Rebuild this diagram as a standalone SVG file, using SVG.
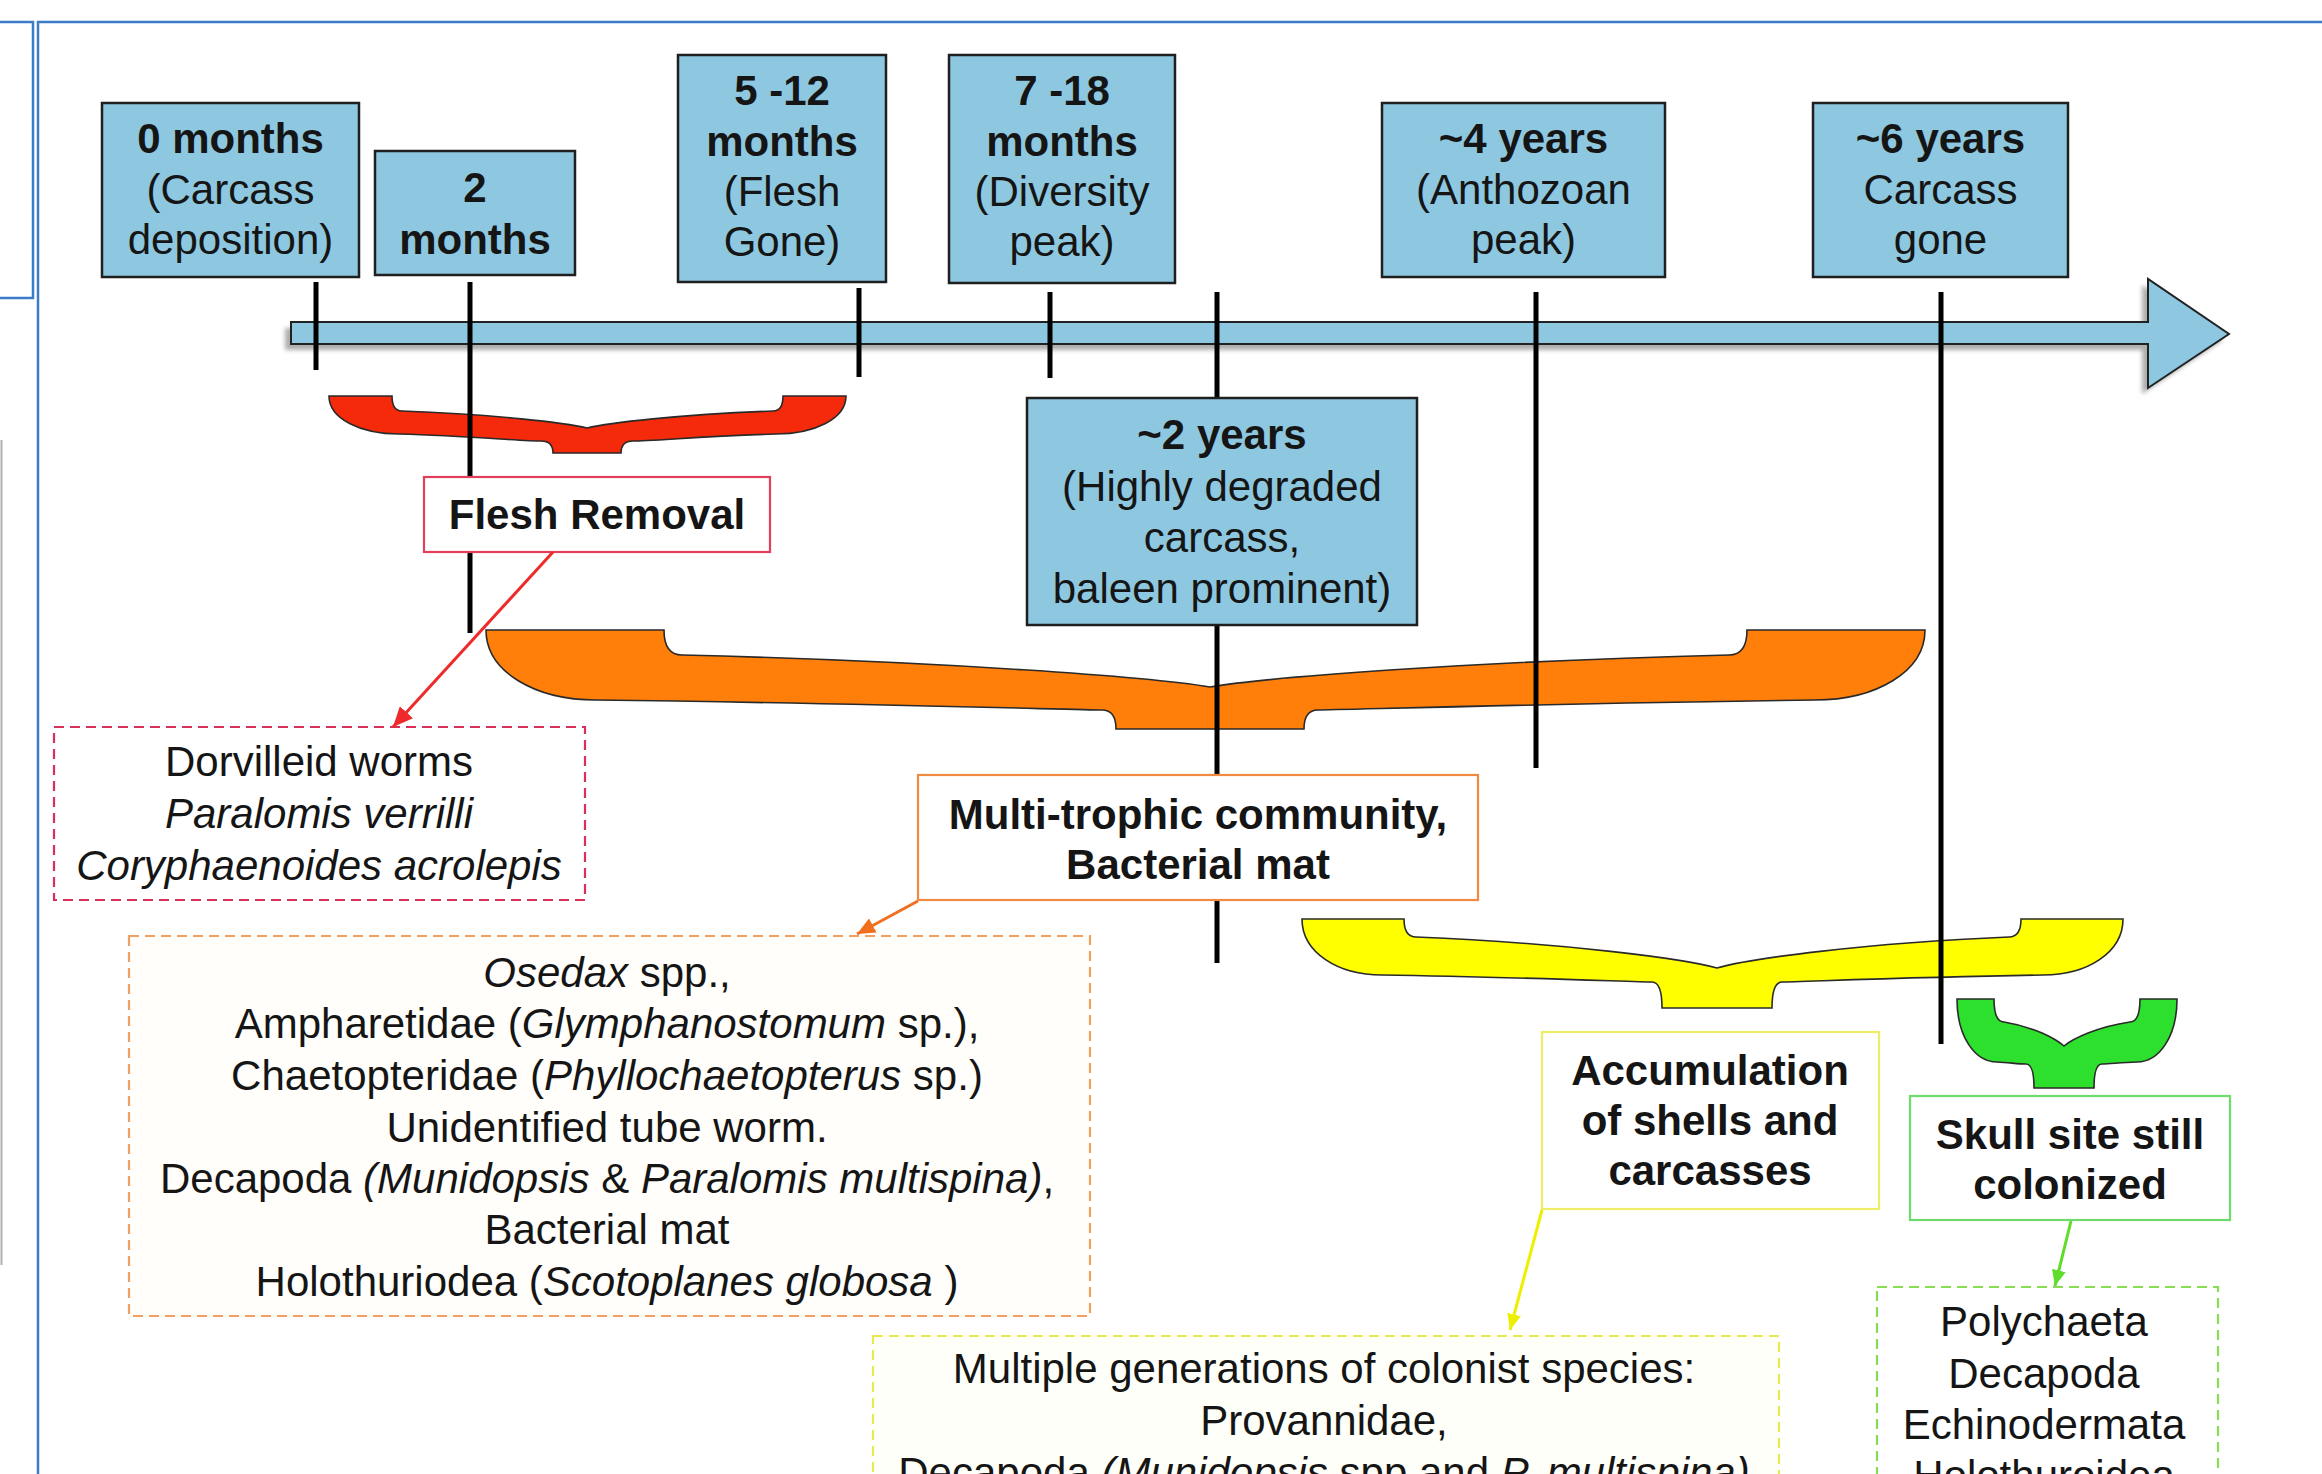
<svg xmlns="http://www.w3.org/2000/svg" width="2322" height="1474" viewBox="0 0 2322 1474">
<defs>
<style>
.t{font-family:"Liberation Sans",Arial,Helvetica,sans-serif;font-size:42px;text-anchor:middle;fill:#151515}
.b{font-weight:bold}
.i{font-style:italic}
.tb{fill:#8DC8E0;stroke:#1f1f1f;stroke-width:2.5}
.tick{stroke:#000;stroke-width:5;fill:none}
.brace{stroke:#2a2a2a;stroke-width:1.6}
.panel{fill:none;stroke:#3B7CC9;stroke-width:2.5}
.lbl{fill:#fff;stroke-width:2.2}
.sp{stroke-width:2.2;stroke-dasharray:10 6}
.conn{fill:none;stroke-width:3}
</style>
<filter id="sh" x="-5%" y="-50%" width="110%" height="200%"><feGaussianBlur stdDeviation="2"/></filter>
<marker id="mr" markerUnits="userSpaceOnUse" markerWidth="22" markerHeight="18" refX="20" refY="9" orient="auto"><path d="M0,0 L20,9 L0,18 z" fill="#EE2A2A"/></marker>
<marker id="mo" markerUnits="userSpaceOnUse" markerWidth="20" markerHeight="16" refX="18" refY="8" orient="auto"><path d="M0,0 L18,8 L0,16 z" fill="#F07020"/></marker>
<marker id="my" markerUnits="userSpaceOnUse" markerWidth="18" markerHeight="14" refX="16" refY="7" orient="auto"><path d="M0,0 L16,7 L0,14 z" fill="#EEEE00"/></marker>
<marker id="mg" markerUnits="userSpaceOnUse" markerWidth="18" markerHeight="14" refX="16" refY="7" orient="auto"><path d="M0,0 L16,7 L0,14 z" fill="#5EDD2A"/></marker>
</defs>
<rect width="2322" height="1474" fill="#fff"/>
<g id="frame">
<path class="panel" d="M0,22 H33 V298 H0"/>
<path class="panel" d="M38,1474 V22 H2322"/>
<line x1="1.5" y1="440" x2="1.5" y2="1265" stroke="#b0b0b0" stroke-width="2"/>
</g>
<g id="timeline">
<path d="M291,322 H2148 V279 L2229,334 L2148,388 V344 H291 Z" transform="translate(-6,6)" fill="#8a8a8a" opacity="0.7" filter="url(#sh)"/>
<path d="M291,322 H2148 V279 L2229,334 L2148,388 V344 H291 Z" fill="#8DC8E0" stroke="#222" stroke-width="2"/>
</g>
<g id="braces">
<path id="brace-red" class="brace" fill="#F52A0A" d="M329,396 H392 Q392,411 402,411 C494.5,414.4 566.4,422.9 587,428 C607.7,422.9 680,414.4 773,411 Q783,411 783,396 H846 C846,418.8 814.5,434 776,434 C704.5,436.1 653,441 633,441 Q621,441 621,453 H553 Q553,441 541,441 C521,441 470,436.1 399,434 C360.5,434 329,418.8 329,396 Z"/>
<path id="brace-orange" class="brace" fill="#FF7F0A" d="M486,630 H664 Q664,655 682,655 C946,661.4 1152.1,677.4 1210,687 C1267.2,677.4 1469.5,661.4 1729,655 Q1747,655 1747,630 H1925 C1925,672 1875.5,700 1815,700 C1566.5,703 1338,710 1318,710 Q1304,710 1304,729 H1116 Q1116,710 1102,710 C1082,710 849,703 596,700 C535.5,700 486,672 486,630 Z"/>
<path id="brace-yellow" class="brace" fill="#FFFF00" d="M1302,919 H1404 Q1404,937 1416,937 C1566.5,943.2 1683.8,958.7 1717,968 C1749.5,958.7 1863,943.2 2009,937 Q2021,937 2021,919 H2123 C2123,952.6 2087,975 2043,975 C1912.5,977 1797,982 1782,982 Q1772,982 1772,1008 H1662 Q1662,982 1652,982 C1637,982 1517,977 1382,975 C1338,975 1302,952.6 1302,919 Z"/>
<path id="brace-green" class="brace" fill="#2EE02E" d="M1957,999 H1994 Q1994,1022 2004,1022 C2034,1026.8 2055.4,1038.8 2064,1046 C2073,1038.8 2097,1026.8 2130,1022 Q2140,1022 2140,999 H2177 C2177,1036.8 2159,1062 2137,1062 C2119.5,1062.6 2110,1064 2102,1064 Q2094,1064 2094,1088 H2034 Q2034,1064 2026,1064 C2018,1064 2009.5,1062.6 1997,1062 C1975,1062 1957,1036.8 1957,999 Z"/>
</g>
<g id="ticks">
<line class="tick" x1="316" y1="282" x2="316" y2="370"/>
<line class="tick" x1="470" y1="282" x2="470" y2="633"/>
<line class="tick" x1="859" y1="288" x2="859" y2="377"/>
<line class="tick" x1="1050" y1="292" x2="1050" y2="378"/>
<line class="tick" x1="1217" y1="292" x2="1217" y2="963"/>
<line class="tick" x1="1536" y1="292" x2="1536" y2="768"/>
<line class="tick" x1="1941" y1="292" x2="1941" y2="1044"/>
</g>
<g id="t0m"><rect class="tb" x="102" y="103" width="257" height="174"/>
<text class="t" x="230.5"><tspan class="b" x="230.5" y="153">0 months</tspan><tspan x="230.5" y="204">(Carcass</tspan><tspan x="230.5" y="254">deposition)</tspan></text></g>
<g id="t2m"><rect class="tb" x="375" y="151" width="200" height="124"/>
<text class="t b" x="475"><tspan x="475" y="202">2</tspan><tspan x="475" y="254">months</tspan></text></g>
<g id="t5m"><rect class="tb" x="678" y="55" width="208" height="227"/>
<text class="t" x="782"><tspan class="b" x="782" y="105">5 -12</tspan><tspan class="b" x="782" y="156">months</tspan><tspan x="782" y="206">(Flesh</tspan><tspan x="782" y="256">Gone)</tspan></text></g>
<g id="t7m"><rect class="tb" x="949" y="55" width="226" height="228"/>
<text class="t" x="1062"><tspan class="b" x="1062" y="105">7 -18</tspan><tspan class="b" x="1062" y="156">months</tspan><tspan x="1062" y="206">(Diversity</tspan><tspan x="1062" y="256">peak)</tspan></text></g>
<g id="t4y"><rect class="tb" x="1382" y="103" width="283" height="174"/>
<text class="t" x="1523.5"><tspan class="b" x="1523.5" y="153">~4 years</tspan><tspan x="1523.5" y="204">(Anthozoan</tspan><tspan x="1523.5" y="254">peak)</tspan></text></g>
<g id="t6y"><rect class="tb" x="1813" y="103" width="255" height="174"/>
<text class="t" x="1940.5"><tspan class="b" x="1940.5" y="153">~6 years</tspan><tspan x="1940.5" y="204">Carcass</tspan><tspan x="1940.5" y="254">gone</tspan></text></g>
<g id="t2y"><rect class="tb" x="1027" y="398" width="390" height="227"/>
<text class="t" x="1222"><tspan class="b" x="1222" y="449">~2 years</tspan><tspan x="1222" y="501">(Highly degraded</tspan><tspan x="1222" y="552">carcass,</tspan><tspan x="1222" y="603">baleen prominent)</tspan></text></g>
<g id="flesh"><rect class="lbl" x="424" y="477" width="346" height="75" stroke="#E0405A"/>
<text class="t b" x="597" y="529">Flesh Removal</text></g>
<g id="multi"><rect class="lbl" x="918" y="775" width="560" height="125" stroke="#F08A40"/>
<text class="t b" x="1198"><tspan x="1198" y="829">Multi-trophic community,</tspan><tspan x="1198" y="879">Bacterial mat</tspan></text></g>
<g id="accum"><rect class="lbl" x="1542" y="1032" width="337" height="177" stroke="#EEEE66" stroke-width="3"/>
<text class="t b" x="1710"><tspan x="1710" y="1085">Accumulation</tspan><tspan x="1710" y="1135">of shells and</tspan><tspan x="1710" y="1185">carcasses</tspan></text></g>
<g id="skull"><rect class="lbl" x="1910" y="1096" width="320" height="124" stroke="#6FDB6F" stroke-width="2.5"/>
<text class="t b" x="2070"><tspan x="2070" y="1149">Skull site still</tspan><tspan x="2070" y="1199">colonized</tspan></text></g>
<g id="dorv"><rect class="sp" x="54" y="727" width="531" height="173" fill="#fff" stroke="#D8305A"/>
<text class="t" x="319"><tspan x="319" y="776">Dorvilleid worms</tspan><tspan class="i" x="319" y="828">Paralomis verrilli</tspan><tspan class="i" x="319" y="880">Coryphaenoides acrolepis</tspan></text></g>
<g id="osedax"><rect class="sp" x="129" y="936" width="961" height="380" fill="#fffefa" stroke="#F0A060" stroke-dasharray="7 5"/>
<text class="t" x="607"><tspan x="607" y="987"><tspan class="i">Osedax</tspan> spp.,</tspan><tspan x="607" y="1038">Ampharetidae (<tspan class="i">Glymphanostomum</tspan> sp.),</tspan><tspan x="607" y="1090">Chaetopteridae (<tspan class="i">Phyllochaetopterus</tspan> sp.)</tspan><tspan x="607" y="1142">Unidentified tube worm.</tspan><tspan x="607" y="1193">Decapoda <tspan class="i">(Munidopsis</tspan> &amp; <tspan class="i">Paralomis multispina)</tspan>,</tspan><tspan x="607" y="1244">Bacterial mat</tspan><tspan x="607" y="1296">Holothuriodea (<tspan class="i">Scotoplanes globosa</tspan> )</tspan></text></g>
<g id="multigen"><rect class="sp" x="873" y="1336" width="906" height="170" fill="#fffffa" stroke="#E8E850" stroke-width="2.5"/>
<text class="t" x="1324"><tspan x="1324" y="1383">Multiple generations of colonist species:</tspan><tspan x="1324" y="1435">Provannidae,</tspan><tspan x="1324" y="1487">Decapoda <tspan class="i">(Munidopsis</tspan> spp and <tspan class="i">P. multispina)</tspan></tspan></text></g>
<g id="poly"><rect class="sp" x="1877" y="1287" width="341" height="210" fill="#fff" stroke="#88DD55" stroke-dasharray="9 6"/>
<text class="t" x="2044"><tspan x="2044" y="1336">Polychaeta</tspan><tspan x="2044" y="1388">Decapoda</tspan><tspan x="2044" y="1439">Echinodermata</tspan><tspan x="2044" y="1490">Holothuroidea</tspan></text></g>
<g id="connectors">
<line class="conn" x1="553" y1="552" x2="393" y2="727" stroke="#EE2A2A" marker-end="url(#mr)"/>
<line class="conn" x1="918" y1="901" x2="857" y2="934" stroke="#F07020" marker-end="url(#mo)"/>
<line class="conn" x1="1542" y1="1210" x2="1510" y2="1330" stroke="#EEEE00" marker-end="url(#my)"/>
<line class="conn" x1="2071" y1="1221" x2="2055" y2="1286" stroke="#5EDD2A" marker-end="url(#mg)"/>
</g>
</svg>
